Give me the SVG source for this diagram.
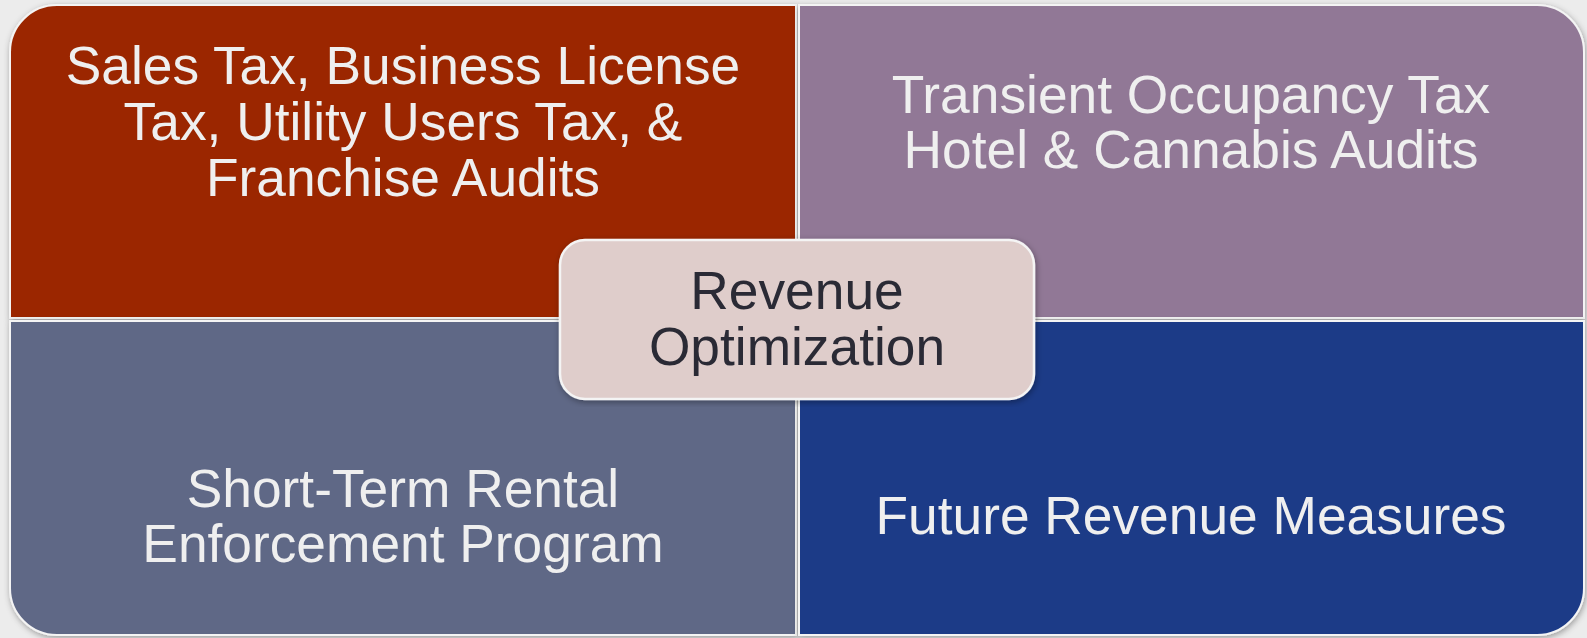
<svg xmlns="http://www.w3.org/2000/svg" width="1587" height="638" viewBox="0 0 1587 638">
  <style>
    .q { stroke: #f4f4f4; stroke-width: 2; }
    .qt { font-family: "Liberation Sans", Arial, sans-serif; font-size: 53.3px; fill: #efefef; text-anchor: middle; }
    .ct { font-family: "Liberation Sans", Arial, sans-serif; font-size: 53.3px; fill: #2b2b36; text-anchor: middle; }
  </style>
  <defs>
    <filter id="sh" x="-5%" y="-5%" width="110%" height="110%">
      <feGaussianBlur in="SourceAlpha" stdDeviation="3"/>
      <feOffset dx="1" dy="2" result="b"/>
      <feFlood flood-color="#000" flood-opacity="0.35"/>
      <feComposite in2="b" operator="in"/>
      <feMerge><feMergeNode/><feMergeNode in="SourceGraphic"/></feMerge>
    </filter>
  </defs>
  <rect x="0" y="0" width="1587" height="638" fill="#ececec"/>

  <g id="q-sales" filter="url(#sh)">
    <path class="q" fill="#9b2800" d="M10,52 A47,47 0 0 1 57,5 H796 V318 H10 Z"/>
    <text class="qt" x="403" y="84">Sales Tax, Business License</text>
    <text class="qt" x="403" y="140">Tax, Utility Users Tax, &amp;</text>
    <text class="qt" x="403" y="196">Franchise Audits</text>
  </g>

  <g id="q-transient" filter="url(#sh)">
    <path class="q" fill="#917896" d="M799,5 H1537 A47,47 0 0 1 1584,52 V318 H799 Z"/>
    <text class="qt" x="1191" y="113">Transient Occupancy Tax</text>
    <text class="qt" x="1191" y="168">Hotel &amp; Cannabis Audits</text>
  </g>

  <g id="q-str" filter="url(#sh)">
    <path class="q" fill="#5e6786" d="M10,321 H796 V635 H57 A47,47 0 0 1 10,588 Z"/>
    <text class="qt" x="403" y="507">Short-Term Rental</text>
    <text class="qt" x="403" y="562">Enforcement Program</text>
  </g>

  <g id="q-future" filter="url(#sh)">
    <path class="q" fill="#1c3b87" d="M799,321 H1584 V588 A47,47 0 0 1 1537,635 H799 Z"/>
    <text class="qt" x="1191" y="534">Future Revenue Measures</text>
  </g>

  <g id="center" filter="url(#sh)">
    <rect x="560" y="240" width="474" height="159" rx="25" ry="25" fill="#dfcdcb" stroke="#f4f4f4" stroke-width="2.5"/>
    <text class="ct" x="797" y="309">Revenue</text>
    <text class="ct" x="797" y="365">Optimization</text>
  </g>

  <g id="connectors"></g>
</svg>
